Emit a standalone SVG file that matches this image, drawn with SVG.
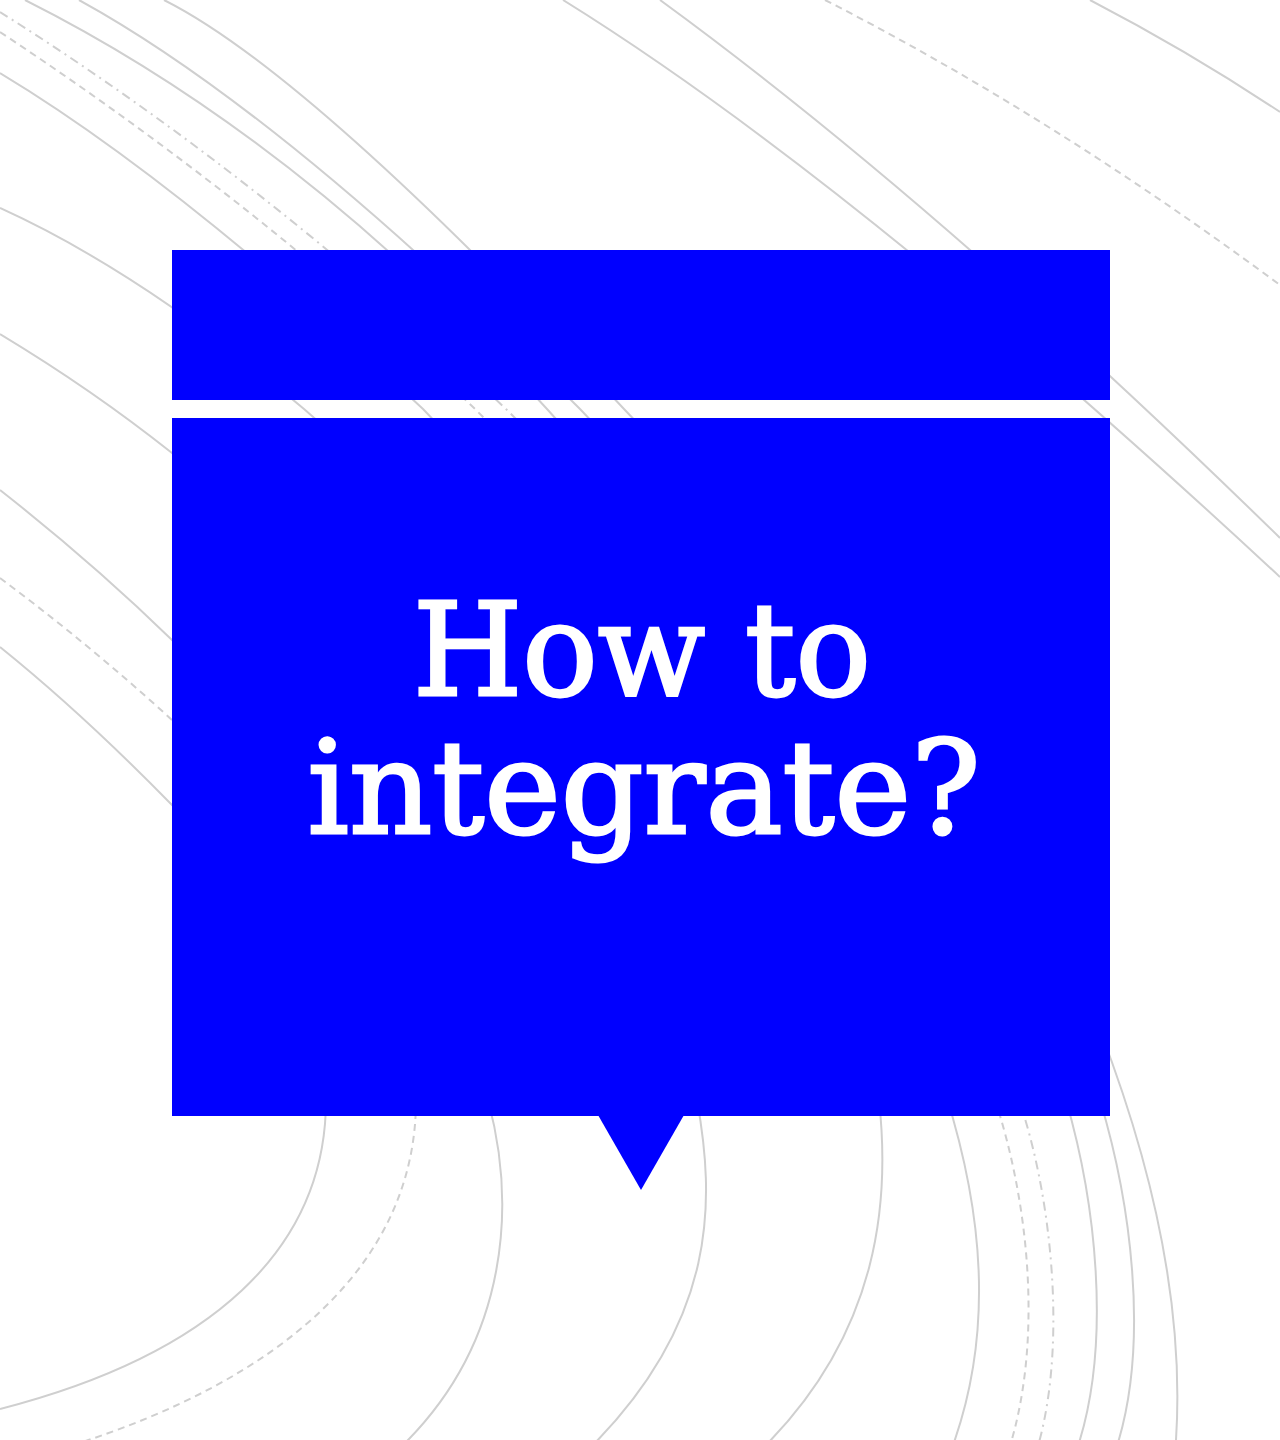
<svg xmlns="http://www.w3.org/2000/svg" width="1280" height="1440" viewBox="0 0 1280 1440">
<style>
.ln{fill:none;stroke:#cfcfcf;stroke-width:2}
.ds{stroke-dasharray:7 5}
.dd{stroke-dasharray:9 5 2 5}
.blue{fill:#0000ff}
.title{font-family:"DejaVu Serif","Liberation Serif",serif;font-size:130px;fill:#ffffff;stroke:#ffffff;stroke-width:3;stroke-linejoin:miter;text-anchor:middle}
</style>
<rect width="1280" height="1440" fill="#ffffff"/>
<g id="connectors">
<path class="ln" d="M0,73 Q178,180 423,409 l100,105"/>
<path class="ln ds" d="M0,32 Q263,206 475,409 l100,100"/>
<path class="ln dd" d="M0,12 Q262,177 506,409 l100,100"/>
<path class="ln" d="M25,0 Q300,138 547,409 l90,100"/>
<path class="ln" d="M79,0 Q283,112 580,409 l90,95"/>
<path class="ln" d="M164,0 Q310,73 624,409 l90,95"/>
<path class="ln" d="M563,0 Q853,180 1280,577"/>
<path class="ln" d="M660,0 Q938,203 1280,538"/>
<path class="ln ds" d="M825,0 Q1050,115 1280,285"/>
<path class="ln" d="M1090,0 Q1190,52 1280,112"/>
<path class="ln" d="M0,208 Q143,273 304,409 l80,70"/>
<path class="ln" d="M0,334 Q93,390 172,453 l60,50"/>
<path class="ln" d="M0,490 Q93,563 172,640 l40,40"/>
<path class="ln ds" d="M0,578 Q90,645 172,720 l40,40"/>
<path class="ln" d="M0,647 Q82,713 172,805 l40,40"/>
<path class="ln" d="M1100,1030 C1150,1160 1185,1300 1176,1440"/>
<path class="ln" d="M326,1100 C326,1250 210,1355 0,1409"/>
<path class="ln ds" d="M416,1100 C416,1265 280,1380 70,1446"/>
<path class="ln" d="M488,1100 C515,1200 512,1340 400,1448"/>
<path class="ln" d="M697,1100 C715,1200 718,1320 590,1448"/>
<path class="ln" d="M879,1100 C890,1200 880,1330 765,1446"/>
<path class="ln" d="M946,1095 C982,1210 995,1330 952,1448"/>
<path class="ln ds" d="M995,1100 C1025,1190 1045,1330 1010,1446"/>
<path class="ln dd" d="M1019,1100 C1050,1190 1068,1340 1038,1446"/>
<path class="ln" d="M1066,1100 C1095,1200 1112,1340 1078,1446"/>
<path class="ln" d="M1100,1100 C1130,1200 1150,1340 1117,1446"/>
</g>
<g id="header">
<rect class="blue" x="172" y="250" width="938" height="150"/>
</g>
<g id="bubble">
<rect class="blue" x="172" y="418" width="938" height="698"/>
<polygon class="blue" points="598,1115 684,1115 641,1190"/>
<text class="title"><tspan x="642" y="695" textLength="458" lengthAdjust="spacingAndGlyphs">How to</tspan><tspan x="644" y="833" textLength="673" lengthAdjust="spacingAndGlyphs">integrate?</tspan></text>
</g>
</svg>
